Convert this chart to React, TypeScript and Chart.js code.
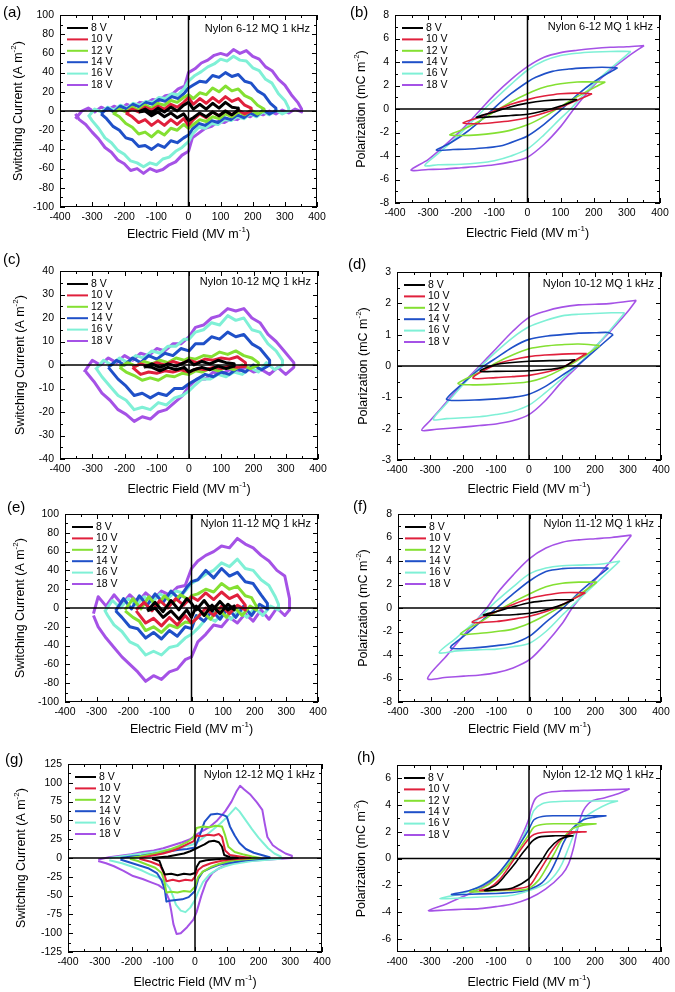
import React, { useEffect, useRef } from "react";
import { Chart, registerables } from "chart.js";
Chart.register(...registerables);

const PAGE_W = 675;
const PAGE_H = 992;
const FONT = '"Liberation Sans", Arial, Helvetica, sans-serif';

const VOLTAGES = ["8 V", "10 V", "12 V", "14 V", "16 V", "18 V"];
const COLORS = ["#000000", "#e0203c", "#84e032", "#1f50c8", "#7ff0d6", "#a552e6"];
const X_TICKS = [-400, -300, -200, -100, 0, 100, 200, 300, 400];
const Y_TICKS_J100 = [-100, -80, -60, -40, -20, 0, 20, 40, 60, 80, 100];
const Y_TICKS_J40 = [-40, -30, -20, -10, 0, 10, 20, 30, 40];
const Y_TICKS_J125 = [-125, -100, -75, -50, -25, 0, 25, 50, 75, 100, 125];
const Y_TICKS_P8 = [-8, -6, -4, -2, 0, 2, 4, 6, 8];
const Y_TICKS_P3 = [-3, -2, -1, 0, 1, 2, 3];
const Y_TICKS_P6 = [-6, -4, -2, 0, 2, 4, 6];

// ---------- (a) Nylon 6-12 switching current [E, J, E, J, ...]
const A_8V = [-155,-1, -135,2, -115,-2, -95,3, -75,-1, -55,4, -35,0, -15,6, 0,9, 15,2, 35,7, 55,2, 75,8, 95,3, 115,9, 135,4, 155,3,
  155,1, 135,-4, 115,0, 95,-5, 75,-1, 55,-6, 35,-2, 15,-7, 0,-10, -15,-3, -35,-7, -55,-2, -75,-6, -95,-1, -115,-5, -135,0, -155,-1];
const A_10V = [-195,-2, -175,2, -155,-1, -135,4, -115,1, -95,5, -75,2, -55,7, -35,4, -15,9, 0,14, 15,7, 35,13, 55,8, 75,14, 95,9, 115,15, 135,10, 155,13, 175,6, 195,3,
  195,0, 175,-3, 155,1, 135,-4, 115,0, 95,-5, 75,-1, 55,-7, 35,-3, 15,-9, 0,-15, -15,-8, -35,-14, -55,-9, -75,-15, -95,-10, -115,-15, -135,-9, -155,-12, -175,-6, -195,-2];
const A_12V = [-235,-3, -215,2, -195,-1, -175,4, -155,1, -135,6, -115,3, -95,8, -75,6, -55,11, -35,9, -15,14, 0,17, 15,13, 35,19, 55,17, 75,24, 95,20, 115,26, 135,21, 155,23, 175,16, 195,13, 215,6, 235,2,
  235,0, 215,-3, 195,1, 175,-4, 155,-1, 135,-6, 115,-3, 95,-8, 75,-6, 55,-11, 35,-9, 15,-14, 0,-18, -15,-14, -35,-20, -55,-18, -75,-25, -95,-21, -115,-27, -135,-22, -155,-24, -175,-17, -195,-13, -215,-6, -235,-2];
const A_14V = [-272,-3, -252,3, -232,-1, -212,5, -192,2, -172,7, -152,4, -132,9, -112,7, -92,12, -72,10, -52,15, -32,13, -12,19, 0,24, 15,27, 35,31, 55,30, 75,37, 95,35, 115,40, 135,36, 155,38, 175,31, 195,29, 215,21, 235,17, 255,8, 272,3,
  272,0, 252,-3, 232,1, 212,-5, 192,-2, 172,-7, 152,-4, 132,-9, 112,-7, 92,-12, 72,-10, 52,-15, 32,-13, 12,-19, 0,-25, -15,-28, -35,-33, -55,-31, -75,-38, -95,-35, -115,-40, -135,-36, -155,-37, -175,-30, -195,-28, -215,-20, -235,-16, -255,-8, -272,-3];
const A_16V = [-312,-6, -292,2, -272,-1, -252,4, -232,1, -212,6, -192,3, -172,8, -152,6, -132,10, -112,9, -92,14, -72,13, -52,18, -32,17, -12,24, 0,31, 20,37, 40,41, 60,46, 80,49, 100,54, 120,52, 140,57, 160,53, 180,52, 200,45, 220,42, 240,33, 260,29, 280,18, 300,11, 312,3,
  312,0, 292,-3, 272,1, 252,-4, 232,-1, 212,-6, 192,-3, 172,-8, 152,-6, 132,-10, 112,-9, 92,-14, 72,-13, 52,-18, 32,-17, 12,-24, 0,-32, -20,-38, -40,-42, -60,-48, -80,-50, -100,-56, -120,-54, -140,-58, -160,-54, -180,-52, -200,-45, -220,-41, -240,-33, -260,-28, -280,-18, -300,-10, -312,-4];
const A_18V = [-352,-8, -332,0, -312,3, -292,-1, -272,4, -252,1, -232,5, -212,2, -192,7, -172,4, -152,9, -132,8, -112,12, -92,11, -72,16, -52,17, -32,23, -12,26, 0,40, 20,44, 40,50, 60,53, 80,58, 100,60, 120,58, 140,64, 160,60, 180,63, 200,57, 220,54, 240,46, 260,42, 280,33, 300,27, 320,17, 340,9, 352,2,
  352,-1, 332,2, 312,-2, 292,1, 272,-3, 252,0, 232,-4, 212,-2, 192,-6, 172,-4, 152,-9, 132,-8, 112,-12, 92,-11, 72,-16, 52,-18, 32,-23, 12,-28, 0,-42, -20,-46, -40,-53, -60,-56, -80,-61, -100,-63, -120,-60, -140,-65, -160,-60, -180,-62, -200,-55, -220,-51, -240,-43, -260,-38, -280,-29, -300,-22, -320,-14, -340,-9, -352,-3];

// ---------- (b) Nylon 6-12 polarization [E, P, ...]
const B_8V = [150,0.8, 100,0.8, 50,0.7, 0,0.5, -50,0.2, -100,-0.25, -155,-0.7, -100,-0.65, -50,-0.55, 0,-0.45, 50,-0.15, 100,0.25, 150,0.8];
const B_10V = [195,1.3, 150,1.35, 100,1.3, 50,1.1, 0,0.8, -50,0.4, -100,-0.15, -150,-0.75, -195,-1.2, -150,-1.25, -100,-1.15, -50,-1.0, 0,-0.75, 50,-0.35, 100,0.15, 150,0.75, 195,1.3];
const B_12V = [235,2.3, 200,2.3, 150,2.3, 100,2.15, 50,1.85, 0,1.3, -50,0.6, -100,-0.25, -150,-1.1, -200,-1.8, -235,-2.2, -200,-2.25, -150,-2.2, -100,-2.05, -50,-1.8, 0,-1.35, 50,-0.65, 100,0.2, 150,1.05, 200,1.8, 235,2.3];
const B_14V = [272,3.5, 225,3.55, 175,3.5, 125,3.4, 75,3.2, 25,2.7, 0,2.3, -50,1.3, -100,0.1, -150,-1.2, -200,-2.3, -240,-3.0, -275,-3.5, -225,-3.45, -175,-3.4, -125,-3.3, -75,-3.1, -25,-2.6, 0,-2.3, 50,-1.3, 100,-0.1, 150,1.2, 200,2.3, 240,3.0, 272,3.5];
const B_16V = [312,4.9, 250,4.9, 200,4.85, 150,4.75, 100,4.55, 50,4.1, 0,3.3, -50,2.1, -100,0.8, -130,0, -175,-1.3, -225,-2.7, -270,-3.8, -310,-4.8, -270,-4.75, -200,-4.7, -150,-4.6, -100,-4.4, -50,-4.0, 0,-3.4, 50,-2.2, 100,-0.8, 130,0, 175,1.4, 225,2.8, 270,3.9, 312,4.9];
const B_18V = [352,5.4, 300,5.3, 250,5.25, 200,5.15, 150,5.0, 100,4.8, 50,4.4, 0,3.6, -50,2.5, -100,1.2, -140,0, -200,-1.8, -250,-3.1, -300,-4.3, -352,-5.2, -300,-5.15, -250,-5.1, -200,-5.0, -150,-4.9, -100,-4.75, -50,-4.5, 0,-4.1, 50,-3.0, 100,-1.5, 140,0, 200,2.0, 250,3.3, 300,4.4, 352,5.4];

// ---------- (c) Nylon 10-12 switching current
const C_8V = [-140,-1, -115,0.5, -90,-1, -65,0.5, -40,-0.5, -15,1, 0,2, 15,0, 40,1.5, 65,0.5, 90,2, 115,1, 140,0.5,
  140,-0.5, 115,-1.5, 90,-0.5, 65,-2, 40,-1, 15,-2, 0,-3, -15,-1, -40,-2, -65,-1, -90,-2.5, -115,-1, -140,-0.5];
const C_10V = [-175,-1, -150,0.5, -125,-0.5, -100,1, -75,0, -50,1.5, -25,0.5, 0,2, 25,1, 50,2.5, 75,2, 100,3, 125,2.5, 150,3.5, 175,1,
  175,-0.5, 150,-1, 125,-0.5, 100,-1.5, 75,-1, 50,-2, 25,-1.5, 0,-3, -25,-2, -50,-3, -75,-2.5, -100,-3.5, -125,-3, -150,-4, -175,-1];
const C_12V = [-215,-1, -190,1, -165,-0.5, -140,1.5, -115,0.5, -90,2, -65,1, -40,3, -15,2, 0,3, 20,2.5, 45,4, 70,3.5, 95,5.5, 120,4.5, 145,6, 170,4, 195,3, 215,1,
  215,0, 190,-1.5, 165,0, 140,-2, 115,-1, 90,-2.5, 65,-1.5, 40,-3, 20,-2.5, 0,-4, -20,-3.5, -45,-5, -70,-4.5, -95,-6.5, -120,-5.5, -145,-6.5, -170,-4.5, -195,-3, -215,-1];
const C_14V = [-250,-1, -225,2, -200,0, -175,3, -150,1, -125,4, -100,2.5, -75,5, -50,4, -25,7, 0,6, 20,9, 45,9, 70,12, 95,11, 120,14, 145,12, 170,13, 195,9, 220,7, 250,2,
  250,0, 225,-2, 200,0, 175,-3, 150,-1.5, 125,-4, 100,-3, 75,-5, 50,-4, 25,-6, 0,-8, -20,-10, -45,-10, -70,-13, -95,-12, -120,-14, -145,-12, -170,-13, -195,-9, -220,-6, -250,-1];
const C_16V = [-290,-2, -265,2, -240,0, -215,3, -190,1, -165,4, -140,3, -115,6, -90,5, -65,8, -40,8, -15,11, 0,11, 20,14, 45,15, 70,18, 95,17, 120,21, 145,19, 170,20, 195,15, 220,14, 245,9, 270,6, 290,2,
  290,0, 265,-2, 240,1, 215,-3, 190,-1, 165,-4, 140,-3, 115,-5, 90,-4, 65,-6, 40,-6, 15,-9, 0,-11, -20,-13, -45,-14, -70,-17, -95,-16, -120,-19, -145,-18, -170,-19, -195,-15, -220,-13, -245,-9, -270,-5, -290,-1];
const C_18V = [-325,-3, -300,2, -275,0, -250,3, -225,1, -200,4, -175,2, -150,5, -125,4, -100,7, -75,6, -50,9, -25,9, 0,12, 20,16, 45,17, 70,20, 95,21, 120,24, 145,23, 170,24, 195,20, 220,18, 245,13, 270,10, 295,6, 325,1,
  325,-1, 300,-4, 275,-1, 250,-4, 225,-2, 200,-3, 175,-1, 150,-3, 125,-2, 100,-4, 75,-3, 50,-6, 25,-6, 0,-9, -20,-13, -45,-16, -70,-19, -95,-20, -120,-23, -145,-22, -170,-24, -195,-21, -220,-19, -245,-15, -270,-12, -295,-7, -325,-2];

// ---------- (d) Nylon 10-12 polarization
const D_8V = [140,0.2, 100,0.18, 0,0.15, -100,0.05, -140,-0.1, -148,-0.15, -140,-0.18, -100,-0.17, 0,-0.15, 100,-0.05, 140,0.2];
const D_10V = [175,0.4, 100,0.38, 50,0.35, 0,0.3, -50,0.2, -100,0.05, -170,-0.38, -100,-0.37, -50,-0.34, 0,-0.3, 50,-0.2, 100,-0.05, 175,0.4];
const D_12V = [215,0.65, 150,0.7, 100,0.68, 50,0.64, 0,0.55, -50,0.35, -100,0.1, -150,-0.2, -215,-0.55, -180,-0.6, -100,-0.58, -50,-0.55, 0,-0.5, 50,-0.35, 100,-0.1, 150,0.2, 215,0.65];
const D_14V = [255,1.0, 240,1.07, 200,1.06, 150,1.05, 100,1.0, 50,0.95, 0,0.85, -50,0.6, -100,0.25, -150,-0.1, -200,-0.55, -250,-1.05, -235,-1.1, -150,-1.08, -100,-1.05, -50,-1.0, 0,-0.9, 50,-0.65, 100,-0.3, 150,0.05, 200,0.5, 255,1.0];
const D_16V = [290,1.7, 250,1.7, 150,1.65, 100,1.6, 50,1.45, 0,1.25, -50,0.9, -100,0.45, -150,-0.05, -200,-0.6, -250,-1.2, -290,-1.7, -250,-1.68, -150,-1.62, -100,-1.55, -50,-1.45, 0,-1.25, 50,-0.85, 100,-0.4, 150,0.05, 200,0.6, 250,1.2, 290,1.7];
const D_18V = [325,2.1, 250,2.0, 200,1.97, 150,1.95, 100,1.88, 50,1.75, 0,1.55, -50,1.1, -100,0.55, -150,0, -200,-0.55, -250,-1.15, -300,-1.75, -325,-2.05, -280,-2.02, -200,-1.95, -150,-1.9, -100,-1.85, -50,-1.75, 0,-1.55, 50,-1.1, 100,-0.5, 150,0.02, 200,0.6, 250,1.15, 300,1.75, 325,2.1];

// ---------- (e) Nylon 11-12 switching current
const E_8V = [-140,-3, -115,6, -90,-4, -65,8, -40,-2, -15,10, 0,5, 15,-2, 40,8, 65,-3, 90,7, 115,-2, 135,2,
  135,-2, 115,4, 90,-6, 65,3, 40,-8, 15,2, 0,-10, -15,-2, -40,-12, -65,-3, -90,-10, -115,0, -140,-3];
const E_10V = [-175,-2, -150,6, -125,-3, -100,8, -75,0, -50,10, -25,3, 0,12, 20,8, 45,16, 70,9, 95,17, 120,10, 145,14, 170,3,
  170,-2, 145,3, 120,-6, 95,2, 70,-8, 45,0, 20,-10, 0,-16, -20,-8, -45,-18, -70,-10, -95,-19, -120,-11, -145,-16, -175,-3];
const E_12V = [-210,-2, -185,10, -160,-1, -135,12, -110,2, -85,13, -60,5, -35,14, -10,9, 0,13, 20,15, 45,20, 70,17, 95,26, 120,20, 145,23, 170,13, 190,11, 205,2,
  205,-2, 185,2, 160,-8, 135,1, 110,-10, 85,0, 60,-12, 35,-4, 10,-13, 0,-16, -20,-15, -45,-21, -70,-18, -95,-26, -120,-20, -145,-24, -165,-14, -185,-10, -210,-3];
const E_14V = [-240,-3, -215,10, -190,-1, -165,13, -140,3, -115,15, -90,6, -65,18, -40,10, -15,22, 0,28, 20,30, 45,40, 70,32, 95,42, 120,34, 145,38, 170,28, 195,26, 220,14, 240,5,
  240,-1, 215,4, 190,-8, 165,2, 140,-10, 115,0, 90,-12, 65,-3, 40,-14, 15,-8, 0,-22, -20,-20, -45,-30, -70,-24, -95,-33, -120,-26, -145,-32, -170,-22, -195,-20, -220,-10, -240,-3];
const E_16V = [-275,-4, -250,8, -225,0, -200,10, -175,3, -150,12, -125,6, -100,15, -75,10, -50,18, -25,16, 0,26, 20,30, 45,36, 70,40, 95,48, 120,44, 145,52, 170,42, 195,40, 220,30, 245,24, 265,12, 275,4,
  275,-2, 250,2, 225,-8, 200,0, 175,-10, 150,-2, 125,-12, 100,-5, 75,-14, 50,-10, 25,-20, 0,-28, -20,-32, -45,-40, -70,-42, -95,-50, -120,-46, -145,-50, -170,-40, -195,-36, -220,-25, -245,-18, -265,-8, -275,-2];
const E_18V = [-310,-6, -295,12, -270,2, -245,14, -220,4, -195,14, -170,6, -145,16, -120,9, -95,18, -70,14, -45,22, -20,24, 0,42, 20,50, 45,56, 70,60, 95,66, 120,64, 145,74, 170,68, 195,64, 220,56, 245,50, 270,40, 295,34, 310,10,
  310,-2, 295,-8, 270,0, 245,-12, 220,-2, 195,-14, 170,-6, 145,-16, 120,-10, 95,-20, 70,-18, 45,-28, 20,-36, 0,-52, -20,-55, -45,-65, -70,-68, -95,-76, -120,-72, -145,-78, -170,-68, -195,-60, -220,-52, -245,-42, -270,-32, -295,-20, -310,-8];

// ---------- (f) Nylon 11-12 polarization
const F_8V = [135,0.7, 80,0.7, 40,0.6, 0,0.45, -50,0.1, -100,-0.3, -140,-0.6, -80,-0.6, -40,-0.55, 0,-0.45, 50,-0.15, 100,0.3, 135,0.7];
const F_10V = [170,1.3, 100,1.3, 50,1.1, 0,0.8, -50,0.3, -100,-0.3, -175,-1.2, -100,-1.15, -50,-0.95, 0,-0.7, 50,-0.3, 100,0.3, 170,1.3];
const F_12V = [205,2.2, 150,2.2, 100,2.1, 50,1.8, 0,1.2, -50,0.5, -100,-0.3, -150,-1.2, -210,-2.2, -150,-2.15, -100,-2.0, -50,-1.8, 0,-1.3, 50,-0.6, 100,0.2, 150,1.1, 205,2.2];
const F_14V = [240,3.4, 150,3.4, 100,3.35, 50,3.1, 0,2.3, -50,1.2, -100,0.0, -150,-1.2, -200,-2.4, -240,-3.4, -150,-3.35, -100,-3.2, -50,-3.0, 0,-2.4, 50,-1.2, 100,-0.05, 150,1.3, 200,2.5, 240,3.4];
const F_16V = [275,4.0, 220,3.75, 150,3.65, 100,3.6, 50,3.4, 0,2.9, -50,1.8, -100,0.6, -130,-0.2, -175,-1.4, -225,-2.6, -275,-3.8, -220,-3.65, -150,-3.55, -100,-3.5, -50,-3.3, 0,-3.0, 50,-2.0, 100,-0.6, 130,0.2, 175,1.4, 225,2.7, 275,4.0];
const F_18V = [310,6.2, 250,6.0, 200,5.9, 150,5.8, 100,5.6, 50,5.1, 0,4.2, -50,2.8, -100,1.2, -130,0, -200,-2.3, -250,-4.0, -310,-6.0, -250,-5.9, -200,-5.8, -150,-5.7, -100,-5.5, -50,-5.1, 0,-4.4, 50,-3.0, 100,-1.3, 130,0, 200,2.4, 250,4.1, 310,6.2];

// ---------- (g) Nylon 12-12 switching current
const G_8V = [-135,0, -110,1, -85,2, -60,4, -35,6, -15,9, 0,12, 15,15, 30,18, 45,22, 60,23, 75,21, 85,15, 92,4, 110,1, 135,0,
  135,0, 110,-1, 85,-1, 60,-2, 35,-3, 15,-5, 5,-12, 0,-20, -15,-22, -35,-21, -55,-23, -75,-21, -95,-22, -105,-12, -112,-4, -135,-1];
const G_10V = [-175,0, -150,2, -125,4, -100,6, -75,9, -50,13, -25,18, -5,22, 5,30, 20,29, 40,31, 60,30, 75,32, 85,28, 95,10, 110,4, 140,2, 175,0,
  175,0, 140,-1, 110,-2, 80,-4, 50,-7, 25,-11, 10,-16, 0,-25, -10,-30, -30,-29, -50,-31, -70,-29, -90,-31, -98,-20, -110,-10, -140,-5, -175,-1];
const G_12V = [-205,0, -175,2, -150,4, -125,6, -100,9, -75,12, -50,16, -25,21, -5,27, 5,40, 25,42, 45,41, 65,43, 85,42, 95,30, 105,15, 125,8, 150,5, 180,2, 205,0,
  205,0, 180,-1, 150,-2, 125,-3, 100,-5, 75,-8, 50,-12, 25,-18, 10,-25, 0,-38, -15,-45, -35,-44, -55,-46, -75,-45, -90,-46, -97,-30, -105,-20, -125,-13, -150,-9, -180,-4, -205,-1];
const G_14V = [-235,0, -200,2, -170,3, -140,5, -110,7, -80,9, -50,11, -25,12, 0,14, 15,30, 30,48, 50,58, 70,59, 90,57, 100,55, 110,42, 125,30, 140,20, 160,12, 185,7, 210,4, 235,1,
  235,0, 210,-1, 185,-2, 160,-3, 130,-5, 100,-7, 75,-9, 50,-13, 25,-18, 10,-28, 0,-44, -20,-52, -40,-55, -60,-56, -80,-57, -90,-58, -95,-42, -105,-30, -120,-20, -145,-14, -175,-10, -205,-6, -235,-2];
const G_16V = [-270,0, -235,2, -200,4, -165,6, -130,8, -100,10, -70,12, -40,15, -15,17, 0,19, 20,25, 40,32, 60,39, 80,46, 100,54, 115,61, 128,67, 140,62, 160,50, 180,38, 200,27, 215,20, 230,13, 250,6, 270,2,
  270,-1, 240,-2, 210,-3, 180,-4, 150,-6, 120,-8, 95,-11, 70,-15, 45,-22, 25,-32, 10,-45, 0,-56, -15,-66, -30,-72, -45,-70, -60,-62, -70,-50, -80,-40, -95,-32, -115,-26, -140,-22, -165,-17, -195,-12, -230,-7, -270,-3];
const G_18V = [-305,-2, -270,1, -235,3, -200,5, -165,8, -130,10, -100,13, -70,17, -40,21, -15,25, 0,30, 20,35, 45,41, 70,50, 95,62, 115,75, 130,88, 142,96, 155,91, 175,84, 195,74, 212,64, 220,45, 228,28, 245,17, 265,11, 285,6, 305,3,
  305,0, 270,-1, 235,-2, 200,-3, 165,-4, 130,-6, 100,-9, 75,-14, 55,-20, 35,-32, 20,-50, 5,-72, -5,-82, -25,-92, -45,-100, -58,-101, -68,-88, -75,-70, -82,-55, -95,-42, -115,-36, -140,-32, -165,-28, -195,-24, -225,-17, -255,-11, -280,-7, -305,-4];

// ---------- (h) Nylon 12-12 polarization
const H_8V = [135,1.7, 80,1.7, 30,1.6, 10,1.3, 0,1.0, -20,0.4, -40,-0.3, -70,-1.2, -100,-2.0, -135,-2.4, -100,-2.35, -50,-2.2, 0,-1.5, 20,-0.8, 40,-0.1, 60,0.7, 90,1.4, 120,1.65, 135,1.7];
const H_10V = [175,2.0, 100,2.0, 40,1.95, 15,1.8, 0,1.5, -30,0.5, -60,-0.6, -90,-1.6, -120,-2.2, -150,-2.4, -100,-2.35, -50,-2.3, 0,-2.05, 25,-1.2, 50,-0.2, 70,0.6, 100,1.5, 130,1.9, 175,2.0];
const H_12V = [205,2.6, 150,2.6, 80,2.6, 40,2.55, 15,2.35, 0,1.8, -30,0.7, -60,-0.4, -100,-1.5, -140,-2.2, -180,-2.5, -130,-2.45, -80,-2.4, -20,-2.35, 0,-2.25, 30,-1.6, 55,-0.6, 75,0.3, 100,1.4, 130,2.2, 165,2.5, 205,2.6];
const H_14V = [235,3.2, 150,3.2, 80,3.2, 40,3.15, 15,2.9, 0,2.2, -30,1.0, -60,-0.1, -100,-1.3, -140,-2.0, -180,-2.4, -235,-2.7, -150,-2.65, -50,-2.55, 0,-2.3, 40,-1.8, 65,-1.0, 85,0, 105,1.2, 130,2.2, 165,2.9, 200,3.1, 235,3.2];
const H_16V = [270,4.3, 150,4.3, 80,4.25, 40,4.1, 15,3.6, 0,2.6, -30,1.0, -60,-0.2, -100,-1.3, -150,-2.1, -200,-2.6, -270,-3.0, -200,-2.95, -100,-2.85, -50,-2.75, 0,-2.4, 50,-1.9, 80,-1.2, 100,-0.4, 120,0.8, 140,2.0, 170,3.1, 200,3.6, 240,4.1, 270,4.3];
const H_18V = [305,5.2, 200,5.12, 100,5.05, 50,4.9, 20,4.5, 5,3.6, 0,3.0, -20,1.8, -50,0.3, -80,-0.9, -120,-1.8, -160,-2.4, -200,-2.85, -250,-3.4, -305,-3.9, -250,-3.85, -200,-3.8, -150,-3.75, -100,-3.6, -50,-3.4, 0,-3.0, 50,-2.3, 100,-1.2, 120,-0.4, 135,0.8, 150,2.5, 165,3.6, 190,4.3, 230,4.55, 270,4.85, 305,5.2];

const J_TITLE: [string, boolean][] = [["Switching Current (A m", false], ["-2", true], [")", false]];
const P_TITLE: [string, boolean][] = [["Polarization (mC m", false], ["-2", true], [")", false]];
const X_TITLE: [string, boolean][] = [["Electric Field (MV m", false], ["-1", true], [")", false]];

const PANELS = [
  { letter: "(a)", lx: 3, ly: 13, l: 60, t: 15, r: 317, b: 207, yMin: -100, yMax: 100, yTicks: Y_TICKS_J100, ann: "Nylon 6-12 MQ 1 kHz", annDy: 14, yTitle: J_TITLE, yTitleX: 19, xTitleDy: 28, lw: 3, tension: 0, series: [A_8V, A_10V, A_12V, A_14V, A_16V, A_18V] },
  { letter: "(b)", lx: 350, ly: 13, l: 395, t: 15, r: 660, b: 203, yMin: -8, yMax: 8, yTicks: Y_TICKS_P8, ann: "Nylon 6-12 MQ 1 kHz", annDy: 12, yTitle: P_TITLE, yTitleX: 362, xTitleDy: 31, lw: 1.6, tension: 0.3, series: [B_8V, B_10V, B_12V, B_14V, B_16V, B_18V] },
  { letter: "(c)", lx: 3, ly: 260, l: 60, t: 271, r: 318, b: 459, yMin: -40, yMax: 40, yTicks: Y_TICKS_J40, ann: "Nylon 10-12 MQ 1 kHz", annDy: 11, yTitle: J_TITLE, yTitleX: 21, xTitleDy: 31, lw: 3, tension: 0, series: [C_8V, C_10V, C_12V, C_14V, C_16V, C_18V] },
  { letter: "(d)", lx: 348, ly: 265, l: 397, t: 272, r: 661, b: 460, yMin: -3, yMax: 3, yTicks: Y_TICKS_P3, ann: "Nylon 10-12 MQ 1 kHz", annDy: 12, yTitle: P_TITLE, yTitleX: 364, xTitleDy: 30, lw: 1.6, tension: 0.3, series: [D_8V, D_10V, D_12V, D_14V, D_16V, D_18V] },
  { letter: "(e)", lx: 7, ly: 508, l: 65, t: 514, r: 318, b: 702, yMin: -100, yMax: 100, yTicks: Y_TICKS_J100, ann: "Nylon 11-12 MQ 1 kHz", annDy: 10, yTitle: J_TITLE, yTitleX: 21, xTitleDy: 28, lw: 3, tension: 0, series: [E_8V, E_10V, E_12V, E_14V, E_16V, E_18V] },
  { letter: "(f)", lx: 353, ly: 507, l: 398, t: 514, r: 661, b: 702, yMin: -8, yMax: 8, yTicks: Y_TICKS_P8, ann: "Nylon 11-12 MQ 1 kHz", annDy: 10, yTitle: P_TITLE, yTitleX: 364, xTitleDy: 28, lw: 1.6, tension: 0.3, series: [F_8V, F_10V, F_12V, F_14V, F_16V, F_18V] },
  { letter: "(g)", lx: 5, ly: 760, l: 68, t: 764, r: 322, b: 952, yMin: -125, yMax: 125, yTicks: Y_TICKS_J125, ann: "Nylon 12-12 MQ 1 kHz", annDy: 11, yTitle: J_TITLE, yTitleX: 22, xTitleDy: 31, lw: 2, tension: 0, series: [G_8V, G_10V, G_12V, G_14V, G_16V, G_18V] },
  { letter: "(h)", lx: 357, ly: 758, l: 397, t: 765, r: 661, b: 952, yMin: -7, yMax: 7, yTicks: Y_TICKS_P6, ann: "Nylon 12-12 MQ 1 kHz", annDy: 10, yTitle: P_TITLE, yTitleX: 362, xTitleDy: 31, lw: 1.6, tension: 0.3, series: [H_8V, H_10V, H_12V, H_14V, H_16V, H_18V] },
];

const YW = 45;
const XH = 20;

function pairs(a: number[]) {
  const out: { x: number; y: number }[] = [];
  for (let i = 0; i + 1 < a.length; i += 2) out.push({ x: a[i], y: a[i + 1] });
  return out;
}

function minors(majors: number[]) {
  const m: number[] = [];
  for (let i = 0; i + 1 < majors.length; i++) m.push((majors[i] + majors[i + 1]) / 2);
  return m;
}

function drawRich(ctx: CanvasRenderingContext2D, parts: [string, boolean][], cx: number, cy: number, rotate: boolean) {
  const main = `12.5px ${FONT}`;
  const sup = `8px ${FONT}`;
  let total = 0;
  for (const [t, s] of parts) {
    ctx.font = s ? sup : main;
    total += ctx.measureText(t).width;
  }
  ctx.save();
  ctx.translate(cx, cy);
  if (rotate) ctx.rotate(-Math.PI / 2);
  ctx.textBaseline = "middle";
  ctx.textAlign = "left";
  ctx.fillStyle = "#000";
  let x = -total / 2;
  for (const [t, s] of parts) {
    ctx.font = s ? sup : main;
    ctx.fillText(t, x, s ? -5 : 0);
    x += ctx.measureText(t).width;
  }
  ctx.restore();
}

const decorPlugin = {
  id: "panelDecor",
  afterDatasetsDraw(chart: any, _args: any, opts: any) {
    const p = opts.panel;
    if (!p) return;
    const ctx: CanvasRenderingContext2D = chart.ctx;
    const { left, top, right, bottom } = chart.chartArea;
    const xs = chart.scales.x;
    const ys = chart.scales.y;
    ctx.save();
    ctx.strokeStyle = "#000";
    // zero axes
    ctx.lineWidth = 1.5;
    const x0 = xs.getPixelForValue(0);
    const y0 = ys.getPixelForValue(0);
    ctx.beginPath();
    ctx.moveTo(x0, top);
    ctx.lineTo(x0, bottom);
    ctx.moveTo(left, y0);
    ctx.lineTo(right, y0);
    ctx.stroke();
    // frame
    ctx.lineWidth = 1;
    ctx.strokeRect(left + 0.5, top + 0.5, right - left - 1, bottom - top - 1);
    // ticks (inward, all four sides)
    ctx.beginPath();
    const tickX = (v: number, len: number) => {
      const px = Math.round(xs.getPixelForValue(v)) + 0.5;
      ctx.moveTo(px, bottom);
      ctx.lineTo(px, bottom - len);
      ctx.moveTo(px, top);
      ctx.lineTo(px, top + len);
    };
    const tickY = (v: number, len: number) => {
      const py = Math.round(ys.getPixelForValue(v)) + 0.5;
      ctx.moveTo(left, py);
      ctx.lineTo(left + len, py);
      ctx.moveTo(right, py);
      ctx.lineTo(right - len, py);
    };
    X_TICKS.forEach((v) => tickX(v, 5));
    minors(X_TICKS).forEach((v) => tickX(v, 3));
    p.yTicks.forEach((v: number) => tickY(v, 5));
    minors(p.yTicks).forEach((v: number) => tickY(v, 3));
    ctx.stroke();
    // legend
    ctx.font = `10.5px ${FONT}`;
    ctx.textBaseline = "middle";
    ctx.textAlign = "left";
    chart.data.datasets.forEach((ds: any, i: number) => {
      const yy = top + 13 + i * 11.4;
      ctx.strokeStyle = ds.borderColor;
      ctx.lineWidth = 2;
      ctx.beginPath();
      ctx.moveTo(left + 7, yy);
      ctx.lineTo(left + 28, yy);
      ctx.stroke();
      ctx.fillStyle = "#000";
      ctx.fillText(ds.label, left + 31, yy);
    });
    // annotation
    ctx.font = `11px ${FONT}`;
    ctx.textAlign = "right";
    ctx.fillStyle = "#000";
    ctx.fillText(p.ann, right - 7, top + p.annDy);
    // panel letter
    ctx.font = `15px ${FONT}`;
    ctx.textAlign = "left";
    ctx.fillText(p.letter, p.lx, p.ly);
    ctx.restore();
    // axis titles
    drawRich(ctx, X_TITLE, (left + right) / 2, bottom + p.xTitleDy, false);
    drawRich(ctx, p.yTitle, p.yTitleX, (top + bottom) / 2, true);
  },
};

function PanelChart({ p }: { p: any }) {
  const ref = useRef<HTMLCanvasElement | null>(null);
  useEffect(() => {
    if (!ref.current) return;
    const tickFont = { family: FONT, size: 10.5 };
    const chart = new Chart(ref.current, {
      type: "scatter",
      data: {
        datasets: p.series.map((s: number[], i: number) => ({
          label: VOLTAGES[i],
          data: pairs(s),
          showLine: true,
          borderColor: COLORS[i],
          backgroundColor: COLORS[i],
          borderWidth: p.lw,
          borderJoinStyle: "round",
          pointRadius: 0,
          tension: p.tension,
          fill: false,
        })),
      },
      options: {
        responsive: false,
        animation: false,
        events: [],
        layout: {
          padding: { left: p.l - YW, top: p.t, right: PAGE_W - p.r, bottom: PAGE_H - p.b - XH },
        },
        plugins: {
          legend: { display: false },
          tooltip: { enabled: false },
          panelDecor: { panel: p },
        } as any,
        scales: {
          x: {
            type: "linear",
            min: -400,
            max: 400,
            afterBuildTicks: (s: any) => { s.ticks = X_TICKS.map((v) => ({ value: v })); },
            afterFit: (s: any) => { s.height = XH; },
            grid: { display: false, drawTicks: false },
            border: { display: false },
            ticks: { padding: 4, color: "#000", font: tickFont, autoSkip: false, maxRotation: 0, callback: (v: any) => String(v) },
          },
          y: {
            type: "linear",
            min: p.yMin,
            max: p.yMax,
            afterBuildTicks: (s: any) => { s.ticks = p.yTicks.map((v: number) => ({ value: v })); },
            afterFit: (s: any) => { s.width = YW; },
            grid: { display: false, drawTicks: false },
            border: { display: false },
            ticks: { padding: 6, color: "#000", font: tickFont, autoSkip: false, callback: (v: any) => String(v) },
          },
        },
      } as any,
      plugins: [decorPlugin],
    });
    return () => chart.destroy();
  }, [p]);
  return (
    <canvas
      ref={ref}
      width={PAGE_W}
      height={PAGE_H}
      style={{ position: "absolute", left: 0, top: 0, width: PAGE_W, height: PAGE_H }}
    />
  );
}

export default function App() {
  return (
    <div style={{ position: "absolute", left: 0, top: 0, width: PAGE_W, height: PAGE_H, background: "#fff", overflow: "hidden" }}>
      {PANELS.map((p) => (
        <PanelChart key={p.letter} p={p} />
      ))}
    </div>
  );
}
